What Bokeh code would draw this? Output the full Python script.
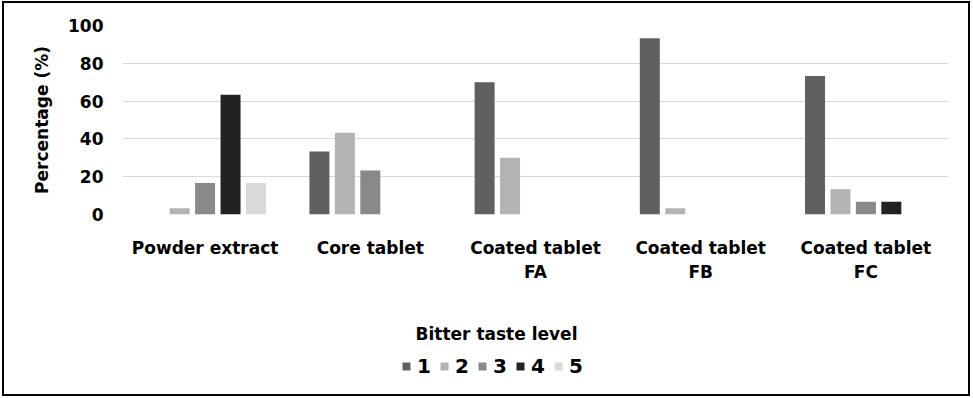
from bokeh.plotting import figure
from bokeh.layouts import column
from bokeh.models import (FactorRange, Range1d, FixedTicker, Legend, LegendItem, Label,
                          ColumnDataSource)
from bokeh.transform import dodge
from bokeh.embed import file_html
from bokeh.resources import INLINE

categories = ["Powder extract", "Core tablet", "Coated tablet\nFA", "Coated tablet\nFB", "Coated tablet\nFC"]
levels = ["1", "2", "3", "4", "5"]
level1 = [0, 33.3, 70, 93.3, 73.3]
level2 = [3.3, 43.3, 30, 3.3, 13.3]
level3 = [16.7, 23.3, 0, 0, 6.7]
level4 = [63.3, 0, 0, 0, 6.7]
level5 = [16.7, 0, 0, 0, 0]
series = [level1, level2, level3, level4, level5]
colors = ["#606060", "#b3b3b3", "#898989", "#222222", "#d9d9d9"]
y_ticks = [0, 20, 40, 60, 80, 100]
legend_title = "Bitter taste level"

FONT = "DejaVu Sans"

data = {"cat": categories}
for lv, s in zip(levels, series):
    data["l" + lv] = s
source = ColumnDataSource(data)

# ---- main chart ----
p = figure(width=964, height=297, output_backend="svg", toolbar_location=None,
           x_range=FactorRange(*categories, range_padding=0),
           y_range=Range1d(0, 100),
           min_border_left=118, min_border_right=20, min_border_top=22, min_border_bottom=86)
p.outline_line_color = None
p.background_fill_color = "white"
p.border_fill_color = "white"

for i, (lv, col) in enumerate(zip(levels, colors)):
    p.vbar(x=dodge("cat", (i - 2) * 0.154, range=p.x_range), top="l" + lv, width=0.121,
           source=source, fill_color=col, line_color=None)

p.xgrid.grid_line_color = None
p.ygrid.grid_line_color = "#d9d9d9"
p.ygrid.grid_line_width = 1
p.yaxis.ticker = FixedTicker(ticks=y_ticks)

for ax in (p.xaxis[0], p.yaxis[0]):
    ax.axis_line_color = None
    ax.major_tick_line_color = None
    ax.minor_tick_line_color = None
    ax.major_tick_out = 0
    ax.major_tick_in = 0
    ax.major_label_text_font = FONT
    ax.major_label_text_font_style = "bold"
    ax.major_label_text_color = "black"
    ax.major_label_text_font_size = "17px"

p.xaxis.major_label_text_line_height = 1.2
p.yaxis.major_label_standoff = 19
p.xaxis.major_label_standoff = 23
p.yaxis.axis_label = "Percentage (%)"
p.yaxis.axis_label_text_font = FONT
p.yaxis.axis_label_text_font_style = "bold"
p.yaxis.axis_label_text_font_size = "17px"
p.yaxis.axis_label_text_color = "black"
p.yaxis.axis_label_standoff = 13

# ---- legend strip (its frame is aligned with the chart's frame) ----
q = figure(width=964, height=94, output_backend="svg", toolbar_location=None,
           x_range=FactorRange(*categories, range_padding=0), y_range=Range1d(-2, -1),
           x_axis_type=None, y_axis_type=None,
           min_border_left=0, min_border_right=0, min_border_top=0, min_border_bottom=0)
q.outline_line_color = None
q.grid.grid_line_color = None
q.background_fill_color = "white"
q.border_fill_color = "white"

# legend proxies: same series, zero width and outside the strip's y range
swatches = []
for i, (lv, col) in enumerate(zip(levels, colors)):
    swatches.append(q.vbar(x=dodge("cat", (i - 2) * 0.154, range=q.x_range), top="l" + lv,
                           width=0, source=source, fill_color=col, line_color=None))

legend = Legend(items=[LegendItem(label=lv, renderers=[r]) for lv, r in zip(levels, swatches)],
                orientation="horizontal", location=(279, 16),
                padding=0, margin=0, spacing=8, glyph_width=10, glyph_height=10,
                label_standoff=6, label_width=14, label_height=20,
                label_text_font=FONT, label_text_font_style="bold", label_text_font_size="20px",
                label_text_color="black",
                border_line_color=None, background_fill_alpha=0)
q.add_layout(legend, "center")

q.add_layout(Label(x=374, y=61, x_units="screen", y_units="screen", text=legend_title,
                   text_font=FONT, text_font_style="bold", text_font_size="17px",
                   text_color="black", text_align="center", text_baseline="middle"))

layout = column(p, q, spacing=0,
                styles={"border": "2px solid black", "margin": "1px 0 0 2px"})

open("out.html", "w").write(file_html(layout, INLINE))
